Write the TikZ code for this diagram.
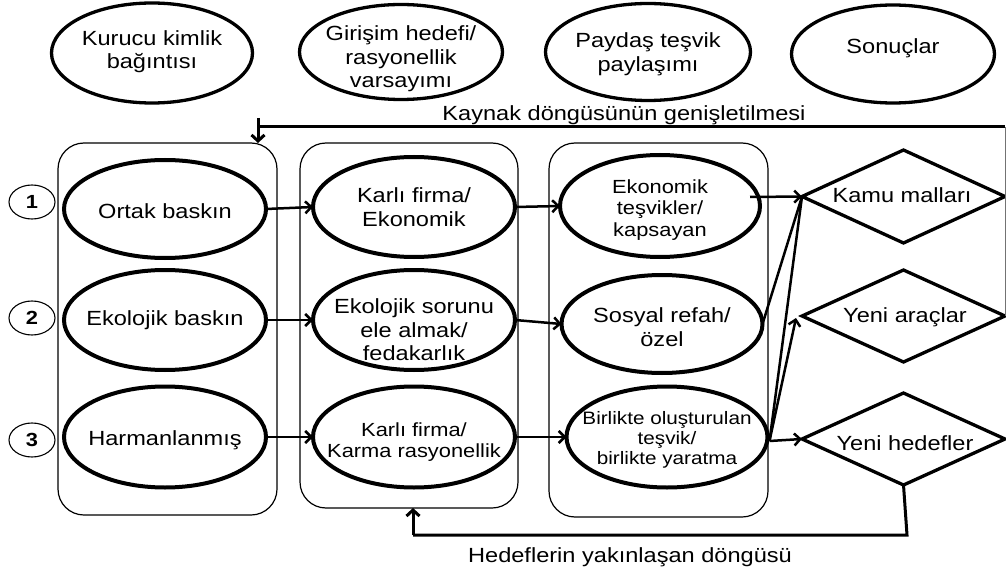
\documentclass[tikz,border=0pt]{standalone}
\usepackage{fontspec}
\setmainfont{Liberation Sans}[FakeStretch=1.15]
\usetikzlibrary{shapes.geometric,arrows.meta,calc}
\begin{document}
\begin{tikzpicture}[x=1pt,y=-1pt,
  every node/.style={inner sep=0pt, outer sep=0pt, align=center},
  txt/.style={font=\fontsize{20.5}{23.5}\selectfont},
  txtm/.style={font=\fontsize{19}{21.5}\selectfont},
  txts/.style={font=\fontsize{18}{20}\selectfont},
  topc/.style={ellipse, draw, line width=3.3pt},
  oval/.style={ellipse, draw, line width=4pt, minimum width=202pt, minimum height=100pt},
  colbox/.style={draw, line width=1.2pt, rounded corners=26pt, minimum width=219pt},
  numc/.style={ellipse, draw, line width=1.1pt, minimum width=46pt, minimum height=34pt, font=\fontsize{19}{20}\selectfont\bfseries},
  dia/.style={diamond, draw, line width=3.3pt, minimum width=203pt},
  arr/.style={line width=2.5pt, -{Straight Barb[length=6pt,width=12pt,line width=2.5pt]}},
  plain/.style={line width=2.5pt},
  fb/.style={line width=3pt},
  fbarr/.style={line width=3pt, -{Straight Barb[length=6pt,width=13pt,line width=3pt]}}
]
\useasboundingbox (0,0) rectangle (1006,572);

% top circles
\node[topc, minimum width=201pt, minimum height=100pt] (t1) at (152,53) {};
\node[txt] (t1t) at (152,51.5) {Kurucu kimlik\\bağıntısı};
\node[topc, minimum width=203pt, minimum height=95pt] (t2) at (401,52) {};
\node[txt] (t2t) at (401,59) {Girişim hedefi/\\rasyonellik\\varsayımı};
\node[topc, minimum width=205pt, minimum height=97pt] (t3) at (648,52) {};
\node[txt] (t3t) at (648,54) {Paydaş teşvik\\paylaşımı};
\node[topc, minimum width=203pt, minimum height=98pt] (t4) at (893,54) {};
\node[txt] (t4t) at (893,48) {Sonuçlar};

% column boxes
\node[colbox, minimum height=372pt] (b1) at (167.5,329) {};
\node[colbox, minimum height=365pt, minimum width=218pt] (b2) at (409,325.5) {};
\node[colbox, minimum height=374pt] (b3) at (658.5,330) {};

% number circles
\node[numc] (n1) at (32,202) {1};
\node[numc] (n2) at (32,318) {2};
\node[numc] (n3) at (32,440) {3};

% column 1
\node[oval, minimum height=98pt] (e11) at (165,209) {};
\node[txt] (e11t) at (165,211) {Ortak baskın};
\node[oval] (e12) at (165,320) {};
\node[txt] (e12t) at (165,320) {Ekolojik baskın};
\node[oval, minimum height=101pt] (e13) at (165,437) {};
\node[txt] (e13t) at (165,440) {Harmanlanmış};

% column 2
\node[oval] (e21) at (414,207) {};
\node[txt] (e21t) at (414,207) {Karlı firma/\\Ekonomik};
\node[oval] (e22) at (414,320) {};
\node[txt] (e22t) at (414,330) {Ekolojik sorunu\\ele almak/\\fedakarlık};
\node[oval, minimum height=101pt] (e23) at (414,437) {};
\node[txtm] (e23t) at (414,442) {Karlı firma/\\Karma rasyonellik};

% column 3
\node[oval, minimum width=200pt, minimum height=102pt] (e31) at (660,206) {};
\node[txtm] (e31t) at (660,210) {Ekonomik\\teşvikler/\\kapsayan};
\node[oval, minimum width=201pt, minimum height=98pt] (e32) at (662,324) {};
\node[txt] (e32t) at (662,327) {Sosyal refah/\\özel};
\node[oval, minimum width=201pt, minimum height=101pt] (e33) at (667,437) {};
\node[txts] (e33t) at (667,440) {Birlikte oluşturulan\\teşvik/\\birlikte yaratma};

% diamonds
\node[dia, minimum height=93pt] (d1) at (903.5,196.5) {};
\node[txt] (d1t) at (902,195) {Kamu malları};
\node[dia, minimum height=92pt] (d2) at (903.5,316) {};
\node[txt] (d2t) at (905,317) {Yeni araçlar};
\node[dia, minimum height=92pt] (d3) at (903.5,439) {};
\node[txt] (d3t) at (905,443) {Yeni hedefler};

% arrows between columns
\draw[arr] (e11.east) -- (e21.west);
\draw[arr] (e12.east) -- (e22.west);
\draw[arr] (e13.east) -- (e23.west);
\draw[arr] (e21.east) -- (e31.west);
\draw[arr] (e22.east) -- (e32.west);
\draw[arr] (e23.east) -- (e33.west);

% arrows to outcomes
\coordinate (e31o) at ($(e31.east)+(-10,-9)$);
\coordinate (e33o) at ($(e33.east)+(2,4)$);
\draw[arr] (e31o) -- (d1.west);
\draw[plain] (e32.east) -- (d1.west);
\draw[plain] (e33o) -- (d1.west);
\draw[arr] (e33o) -- ($(d2.west)+(-6,2)$);
\draw[arr] (e33o) -- (d3.west);

% top feedback loop
\coordinate (trc) at (1005,127);
\coordinate (tlc) at (258,127);
\coordinate (tla) at (258,118);
\draw[line width=1pt, black!55] (d2.east) -- (trc);
\draw[fb] (trc) -- (tlc);
\draw[fbarr] (tla) -- (tla |- b1.north);
\node[txt] (lab1) at (624,115) {Kaynak döngüsünün genişletilmesi};

% bottom feedback loop
\coordinate (brc) at (907,535);
\coordinate (blc) at (413,535);
\draw[fb] (d3.south) -- (brc) -- (blc);
\draw[fbarr] (blc) -- (blc |- b2.south);
\node[txt] (lab2) at (630,557) {Hedeflerin yakınlaşan döngüsü};
\end{tikzpicture}
\end{document}
